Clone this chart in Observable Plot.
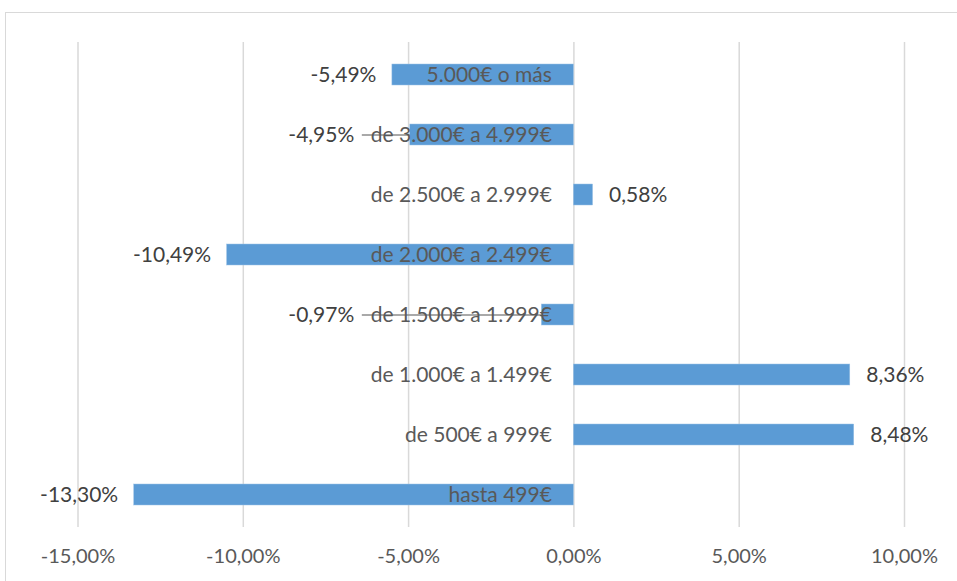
<!DOCTYPE html>
<html>
<head>
<meta charset="utf-8">
<script src="https://cdn.jsdelivr.net/npm/d3@7"></script>
<script src="https://cdn.jsdelivr.net/npm/@observablehq/plot@0.6"></script>
<style>
  html, body { margin: 0; padding: 0; background: #fff; }
  #wrap { position: relative; width: 957px; height: 581px; overflow: hidden; }
  #frame { position: absolute; left: 5px; top: 12px; width: 1000px; height: 1000px;
           border-left: 1.5px solid #d9d9d9; border-top: 1.5px solid #d9d9d9; box-sizing: border-box; }
  #chart { position: absolute; left: 0; top: 0; }
</style>
</head>
<body>
<div id="wrap"><div id="frame"></div><div id="chart"></div></div>
<script>
const categories = [
  "5.000€ o más",
  "de 3.000€ a 4.999€",
  "de 2.500€ a 2.999€",
  "de 2.000€ a 2.499€",
  "de 1.500€ a 1.999€",
  "de 1.000€ a 1.499€",
  "de 500€ a 999€",
  "hasta 499€"
];
const values = [-5.49, -4.95, 0.58, -10.49, -0.97, 8.36, 8.48, -13.30];
const xTicks = [-15, -10, -5, 0, 5, 10];
// value labels that were moved out of the bar, with a leader line
const movedLabels = ["de 3.000€ a 4.999€", "de 1.500€ a 1.999€"];
const movedLabelAt = -6.4;

const data = categories.map((c, i) => ({cat: c, v: values[i], moved: movedLabels.includes(c)}));
const fmt = v => v.toFixed(2).replace(".", ",") + "%";

const font = "Lato, 'Open Sans', sans-serif";

const neg = data.filter(d => d.v < 0 && !d.moved);
const pos = data.filter(d => d.v >= 0);
const moved = data.filter(d => d.moved);

const chart = Plot.plot({
  width: 957,
  height: 581,
  marginLeft: 77.5,
  marginRight: 53,
  marginTop: 42,
  marginBottom: 54,
  style: {fontFamily: font, background: "transparent", overflow: "visible"},
  x: {domain: [-15, 10], ticks: xTicks, tickFormat: fmt, tickSize: 0, tickPadding: 21, label: null},
  y: {domain: categories, paddingInner: 0.65, paddingOuter: 0.325, axis: null},
  marks: [
    Plot.gridX(xTicks, {stroke: "#d9d9d9", strokeOpacity: 1, strokeWidth: 1.5}),
    Plot.barX(data, {x1: 0, x2: "v", y: "cat", fill: "#5b9bd5", stroke: "#9dc3e6", strokeWidth: 0.5}),
    Plot.ruleY(moved, {y: "cat", x1: movedLabelAt, x2: "v", stroke: "#8c8c8c", strokeWidth: 1.5}),
    Plot.text(data, {x: 0, y: "cat", text: "cat", textAnchor: "end", dx: -22, fill: "#595959", fontSize: 21}),
    Plot.text(neg, {x: "v", y: "cat", text: d => fmt(d.v), textAnchor: "end", dx: -16, fill: "#404040", fontSize: 21}),
    Plot.text(pos, {x: "v", y: "cat", text: d => fmt(d.v), textAnchor: "start", dx: 16, fill: "#404040", fontSize: 21}),
    Plot.text(moved, {x: movedLabelAt, y: "cat", text: d => fmt(d.v), textAnchor: "end", dx: -8, fill: "#404040", fontSize: 21})
  ]
});
const ax = chart.querySelector("g[aria-label='x-axis tick label']");
if (ax) { ax.setAttribute("fill", "#595959"); ax.setAttribute("font-size", "20"); }
document.getElementById("chart").appendChild(chart);
</script>
</body>
</html>
